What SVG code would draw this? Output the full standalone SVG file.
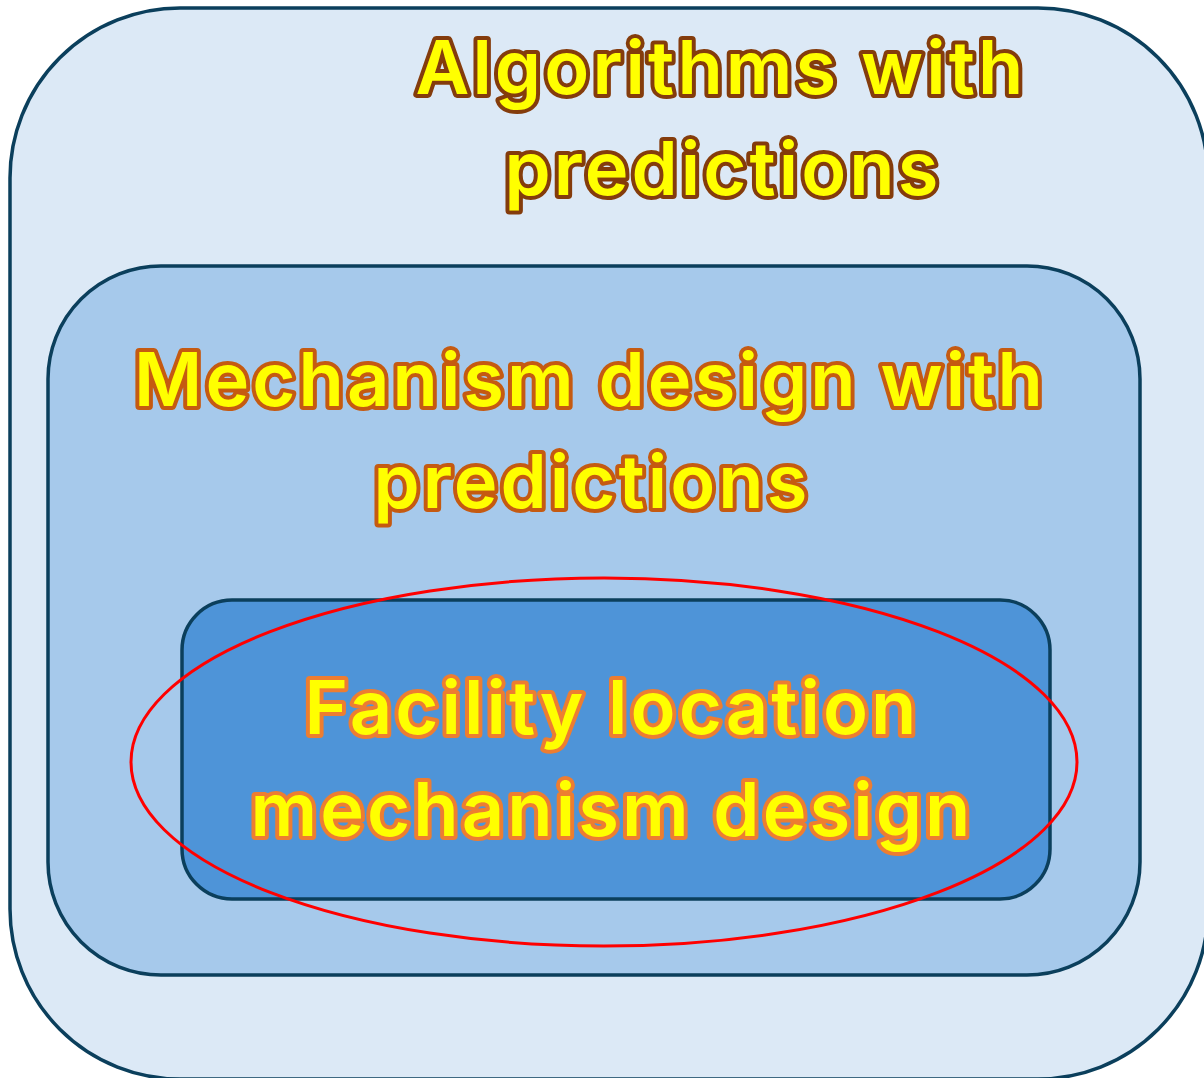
<svg xmlns="http://www.w3.org/2000/svg" width="1204" height="1078" viewBox="0 0 1204 1078">
<style>
.box{stroke:#0B3F5C;stroke-width:3.5}
.lbl{font-family:Inter,"Noto Sans","Liberation Sans",sans-serif;font-weight:600;font-size:74px;letter-spacing:3.1px;fill:#FFFF00;stroke-width:8;stroke-linejoin:round;paint-order:stroke;text-anchor:middle}
</style>
<rect width="1204" height="1078" fill="#FFFFFF"/>
<g id="algorithms">
<rect class="box" x="10" y="8" width="1198" height="1071" rx="170" ry="170" fill="#DCE9F6"/>
<text class="lbl" stroke="#843C0C"><tspan x="721" y="94">Algorithms with</tspan><tspan x="723" y="195">predictions</tspan></text>
</g>
<g id="mechanism">
<rect class="box" x="48" y="266" width="1092" height="709" rx="113" ry="113" fill="#A6C9EB"/>
<text class="lbl" stroke="#C55A11"><tspan x="590" y="406">Mechanism design with</tspan><tspan x="592" y="508">predictions</tspan></text>
</g>
<g id="facility">
<rect class="box" x="182" y="600" width="868" height="299" rx="50" ry="50" fill="#4E94D8"/>
<text class="lbl" stroke="#ED7D31"><tspan x="612" y="734">Facility location</tspan><tspan x="612" y="836">mechanism design</tspan></text>
</g>
<g id="highlight">
<ellipse cx="604" cy="762" rx="473" ry="184" fill="none" stroke="#FF0000" stroke-width="3"/>
</g>
</svg>
